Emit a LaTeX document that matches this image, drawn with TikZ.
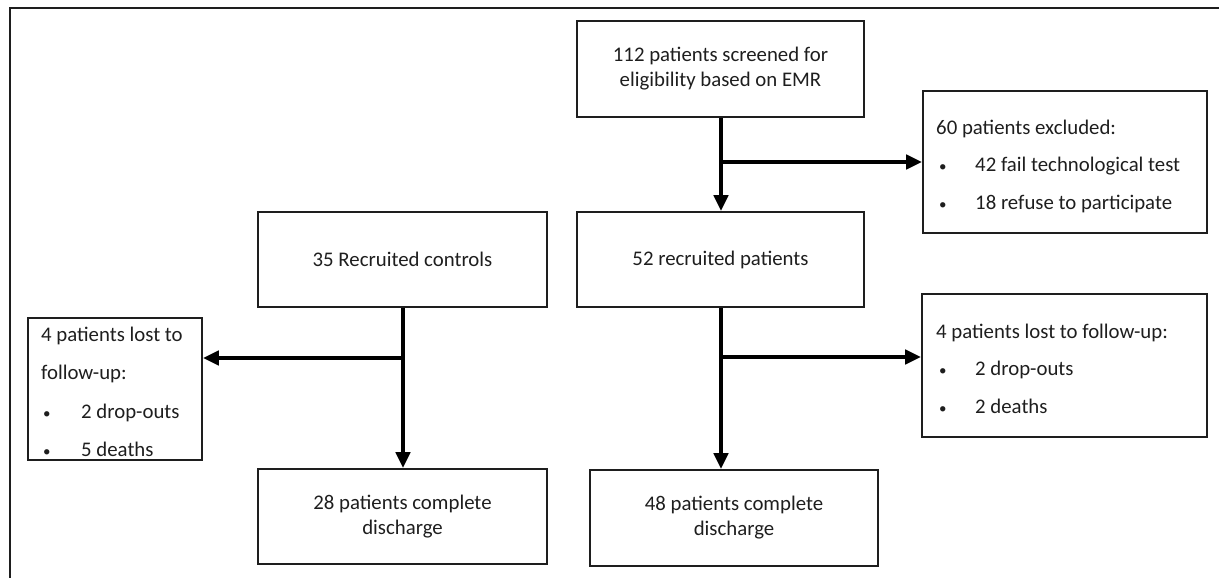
\documentclass[tikz,border=0pt]{standalone}
\usepackage{fontspec}
\setmainfont{Carlito}
\usetikzlibrary{arrows.meta,calc}
\definecolor{ink}{HTML}{1E1E1E}
\begin{document}
\begin{tikzpicture}[x=1pt,y=-1pt,
  box/.style={draw=ink, line width=1.6pt, rectangle, inner sep=0pt, align=center,
    font=\fontsize{20.8}{25}\selectfont, text=ink},
  txt/.style={anchor=west, inner sep=0pt, text height=13pt, text depth=0pt,
    font=\fontsize{20.8}{25}\selectfont, text=ink},
  bul/.style={anchor=west, inner sep=0pt, text height=10pt, text depth=0pt,
    font=\fontsize{15}{18}\selectfont, text=ink},
  flow/.style={line width=4.5pt, draw=black, -{Triangle[length=16pt,width=14pt]}},
  frame/.style={line width=2pt, draw=ink}]
\useasboundingbox (0,0) rectangle (1219,578);
\coordinate (fbl) at (10,578);
\coordinate (ftl) at (10,8);
\coordinate (ftr) at (1219,8);
\draw[frame] (fbl) -- (ftl) -- (ftr);

% boxes
\node[box, minimum width=287pt, minimum height=96pt] (screen) at (720.5,69) {112 patients screened for\\eligibility based on EMR};
\node[box, minimum width=284pt, minimum height=142pt] (excl) at (1065,162) {};
\node[box, minimum width=287pt, minimum height=95pt] (recr) at (720.5,259.5) {52 recruited patients};
\node[box, minimum width=289pt, minimum height=95pt] (ctrl) at (402.5,259.5) {35 Recruited controls};
\node[box, minimum width=174pt, minimum height=142pt] (lossL) at (115,389) {};
\node[box, minimum width=285pt, minimum height=143pt] (lossR) at (1064.5,365.5) {};
\node[box, minimum width=289pt, minimum height=95pt] (compL) at (402.5,516.5) {28 patients complete\\discharge};
\node[box, minimum width=288pt, minimum height=96pt] (compR) at (734,518) {48 patients complete\\discharge};

% text of excluded box
\node[txt] (e0) at (936,128) {60 patients excluded:};
\node[bul] (e1b) at (939,166) {•};
\node[txt] (e1) at (975,165) {42 fail technological test};
\node[bul] (e2b) at (939,204) {•};
\node[txt] (e2) at (975,203) {18 refuse to participate};

% text of right loss box
\node[txt] (r0) at (936,332) {4 patients lost to follow-up:};
\node[bul] (r1b) at (939,370) {•};
\node[txt] (r1) at (975,369) {2 drop-outs};
\node[bul] (r2b) at (939,408) {•};
\node[txt] (r2) at (975,407) {2 deaths};

% text of left loss box
\node[txt] (l0) at (41,335) {4 patients lost to};
\node[txt] (l1) at (41,373) {follow-up:};
\node[bul] (l2b) at (43,413) {•};
\node[txt] (l2) at (81,412) {2 drop-outs};
\node[bul] (l3b) at (43,451) {•};
\node[txt] (l3) at (81,450) {5 deaths};

% connectors
\coordinate (b1) at (721,162);
\coordinate (b2) at (721,357);
\coordinate (b3) at (403,358);
\draw[flow] (screen.south -| b1) -- (recr.north -| b1);
\draw[flow] (b1) -- (b1 -| excl.west);
\draw[flow] (recr.south -| b2) -- (compR.north -| b2);
\draw[flow] (b2) -- (b2 -| lossR.west);
\draw[flow] (ctrl.south -| b3) -- (compL.north -| b3);
\draw[flow] (b3) -- (b3 -| lossL.east);
\end{tikzpicture}
\end{document}
